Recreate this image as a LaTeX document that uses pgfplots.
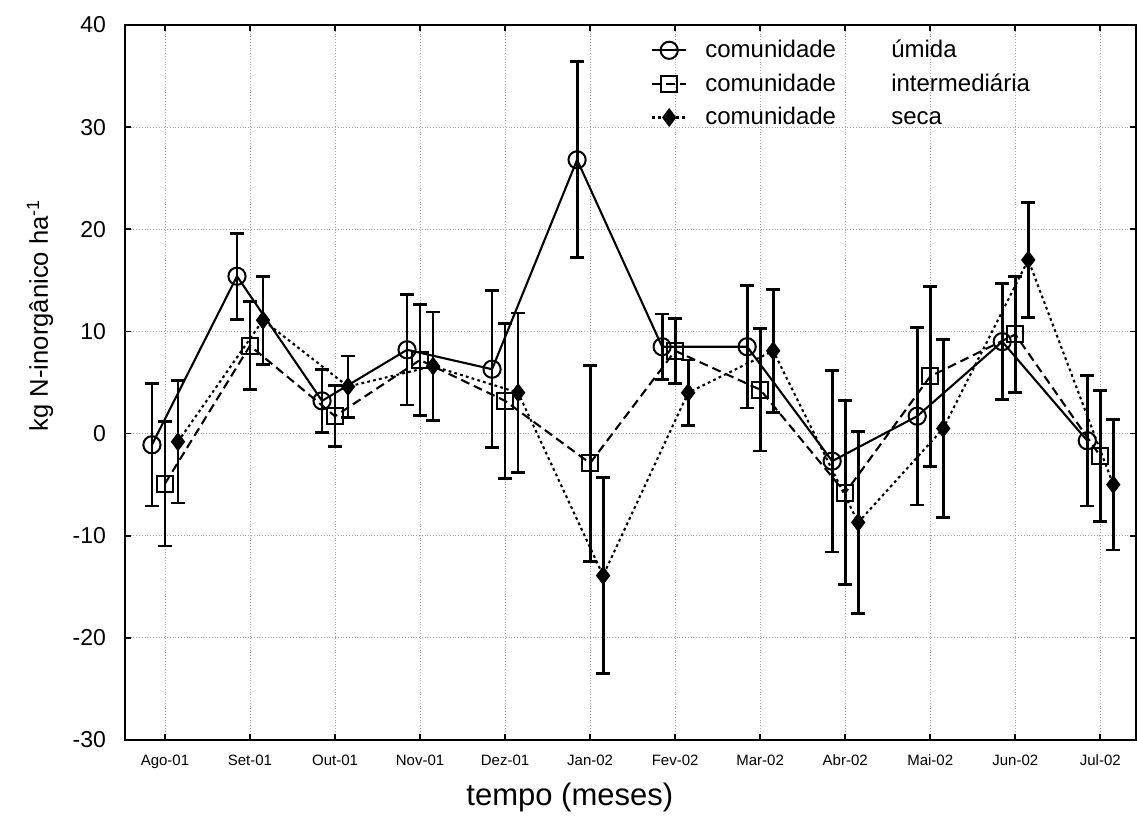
\documentclass[border=0pt]{standalone}
\usepackage{fontspec}
\setmainfont{Liberation Sans}
\usepackage{pgfplots}
\pgfplotsset{compat=1.18}
\begin{document}
\begin{tikzpicture}
\useasboundingbox (-62.5pt,-46.5pt) rectangle (506pt,370pt);
\begin{axis}[
  scale only axis, width=505.5pt, height=357.5pt,
  at={(0pt,0pt)}, anchor=south west,
  xmin=-0.47, xmax=11.42, ymin=-30, ymax=40,
  ytick={-30,-20,...,40},
  xtick={0,...,11},
  xticklabels={Ago-01,Set-01,Out-01,Nov-01,Dez-01,Jan-02,Fev-02,Mar-02,Abr-02,Mai-02,Jun-02,Jul-02},
  /pgf/number format/assume math mode=true,
  tick align=inside, major tick length=3pt,
  tick style={black, line width=0.8pt},
  axis line style={line width=1.2pt},
  grid=major, grid style={densely dotted, gray!70, line width=0.4pt},
  x tick label style={font=\fontsize{7.5}{9}\selectfont, yshift=-4pt},
  y tick label style={font=\fontsize{11.5}{13}\selectfont, xshift=-6pt},
  xlabel={tempo (meses)}, ylabel={kg N-inorgânico ha\textsuperscript{-1}},
  xlabel style={font=\fontsize{15.5}{17}\selectfont, at={(axis description cs:0.44,0)}, anchor=center, yshift=-28.5pt},
  ylabel style={font=\fontsize{12.8}{15}\selectfont, at={(axis description cs:0,0.594)}, anchor=center, yshift=42.5pt},
  legend style={at={(0.518,0.988)}, anchor=north west, draw=none, fill=none,
     font=\fontsize{12}{14}\selectfont, row sep=2.5pt, inner sep=1pt},
  legend cell align=left,
  every axis plot/.append style={black, line width=1.05pt},
  error bars/y dir=both, error bars/y explicit,
  error bars/error bar style={solid, line width=1.4pt},
  error bars/error mark options={solid, rotate=90, mark size=3.5pt, line width=1.4pt},
]
\addplot[mark=o, mark size=4.3pt, mark options={solid, fill=white, line width=1pt}]
 table[x expr=\thisrow{x}-0.153, y=y, y error=e]{
x y e
0 -1.1 6.0
1 15.4 4.2
2 3.2 3.1
3 8.2 5.4
4 6.3 7.7
5 26.8 9.6
6 8.5 3.2
7 8.5 6.0
8 -2.7 8.9
9 1.7 8.7
10 9.0 5.7
11 -0.7 6.4
};
\addlegendentry{\hspace{7pt}\makebox[93pt][l]{comunidade}úmida}
\addplot[dash pattern=on 4.5pt off 2.5pt, mark=square, mark size=4pt, mark options={solid, fill=white, line width=1pt}]
 table[x=x, y=y, y error=e]{
x y e
0 -4.9 6.1
1 8.6 4.3
2 1.7 3.0
3 7.2 5.4
4 3.2 7.6
5 -2.9 9.6
6 8.1 3.2
7 4.3 6.0
8 -5.8 9.0
9 5.6 8.8
10 9.7 5.7
11 -2.2 6.4
};
\addlegendentry{\hspace{7pt}\makebox[93pt][l]{comunidade}intermediária}
\addplot[dash pattern=on 1.4pt off 1.6pt, mark=diamond*, mark size=4.3pt, mark options={solid, fill=black, line width=0.6pt}]
 table[x expr=\thisrow{x}+0.153, y=y, y error=e]{
x y e
0 -0.8 6.0
1 11.1 4.3
2 4.6 3.0
3 6.6 5.3
4 4.0 7.8
5 -13.9 9.6
6 4.0 3.2
7 8.1 6.0
8 -8.7 8.9
9 0.5 8.7
10 17.0 5.6
11 -5.0 6.4
};
\addlegendentry{\hspace{7pt}\makebox[93pt][l]{comunidade}seca}
\end{axis}
\end{tikzpicture}
\end{document}
